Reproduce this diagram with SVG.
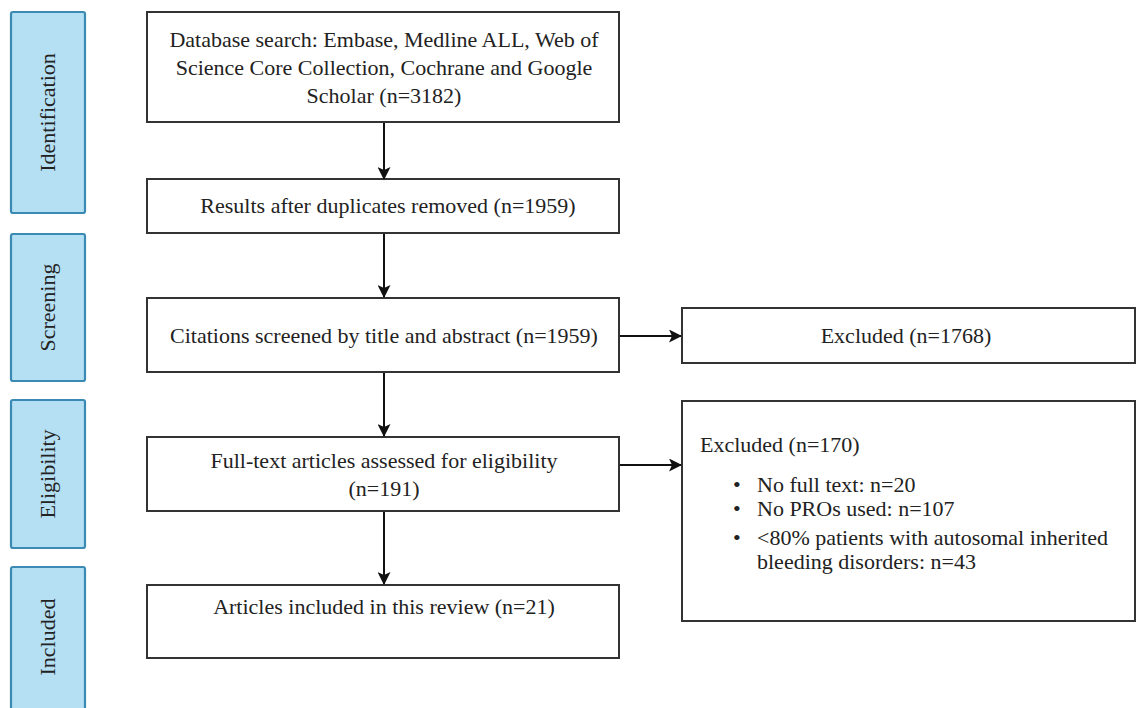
<svg xmlns="http://www.w3.org/2000/svg" width="1137" height="708" viewBox="0 0 1137 708">
<defs>
<marker id="ah" markerWidth="13" markerHeight="13" refX="12" refY="6.5" orient="auto" markerUnits="userSpaceOnUse">
<path d="M0,0 L13,6.5 L0,13 L3,6.5 Z" fill="#111"/>
</marker>
<style>
.stage rect{fill:#b5dff2;stroke:#3b8ab4;stroke-width:2.2}
.stage text{font-family:"Liberation Serif",serif;font-size:22px;fill:#222;text-anchor:middle}
.box rect{fill:#fff;stroke:#333;stroke-width:2}
.box text{font-family:"Liberation Serif",serif;font-size:22px;fill:#222}
.c{text-anchor:middle}
.conn line{stroke:#111;stroke-width:2;marker-end:url(#ah)}
</style>
</defs>
<rect width="1137" height="708" fill="#fff"/>
<g id="stage-identification" class="stage"><rect x="11" y="12" width="74" height="201" rx="2"/><text transform="translate(55,112.5) rotate(-90)">Identification</text></g>
<g id="stage-screening" class="stage"><rect x="11" y="234" width="74" height="147" rx="2"/><text transform="translate(55,307.5) rotate(-90)">Screening</text></g>
<g id="stage-eligibility" class="stage"><rect x="11" y="400" width="74" height="148" rx="2"/><text transform="translate(55,474) rotate(-90)">Eligibility</text></g>
<g id="stage-included" class="stage"><rect x="11" y="567" width="74" height="150" rx="2"/><text transform="translate(55,637) rotate(-90)">Included</text></g>

<g id="node-search" class="box"><rect x="147" y="12" width="472" height="110"/>
<text class="c" x="384" y="47">Database search: Embase, Medline ALL, Web of</text>
<text class="c" x="384" y="75">Science Core Collection, Cochrane and Google</text>
<text class="c" x="384" y="103">Scholar (n=3182)</text></g>
<g id="node-duplicates" class="box"><rect x="147" y="179" width="472" height="54"/>
<text class="c" x="388" y="213">Results after duplicates removed (n=1959)</text></g>
<g id="node-screened" class="box"><rect x="147" y="298" width="472" height="74"/>
<text class="c" x="384" y="343">Citations screened by title and abstract (n=1959)</text></g>
<g id="node-excluded1" class="box"><rect x="682" y="308" width="453" height="55"/>
<text class="c" x="906" y="343">Excluded (n=1768)</text></g>
<g id="node-fulltext" class="box"><rect x="147" y="437" width="472" height="74"/>
<text class="c" x="384" y="468">Full-text articles assessed for eligibility</text>
<text class="c" x="384" y="496">(n=191)</text></g>
<g id="node-excluded2" class="box"><rect x="682" y="401" width="453" height="220"/>
<text x="700" y="452">Excluded (n=170)</text>
<text x="733" y="492">•</text><text x="757" y="492">No full text: n=20</text>
<text x="733" y="516">•</text><text x="757" y="516">No PROs used: n=107</text>
<text x="733" y="545">•</text><text x="757" y="545">&lt;80% patients with autosomal inherited</text>
<text x="757" y="569">bleeding disorders: n=43</text></g>
<g id="node-included" class="box"><rect x="147" y="585" width="472" height="73"/>
<text class="c" x="384" y="614">Articles included in this review (n=21)</text></g>

<g id="connectors" class="conn">
<line x1="384" y1="123" x2="384" y2="179"/>
<line x1="384" y1="234" x2="384" y2="297"/>
<line x1="384" y1="373" x2="384" y2="436"/>
<line x1="384" y1="512" x2="384" y2="584"/>
<line x1="620" y1="336" x2="681" y2="336"/>
<line x1="620" y1="465" x2="681" y2="465"/>
</g>
</svg>
